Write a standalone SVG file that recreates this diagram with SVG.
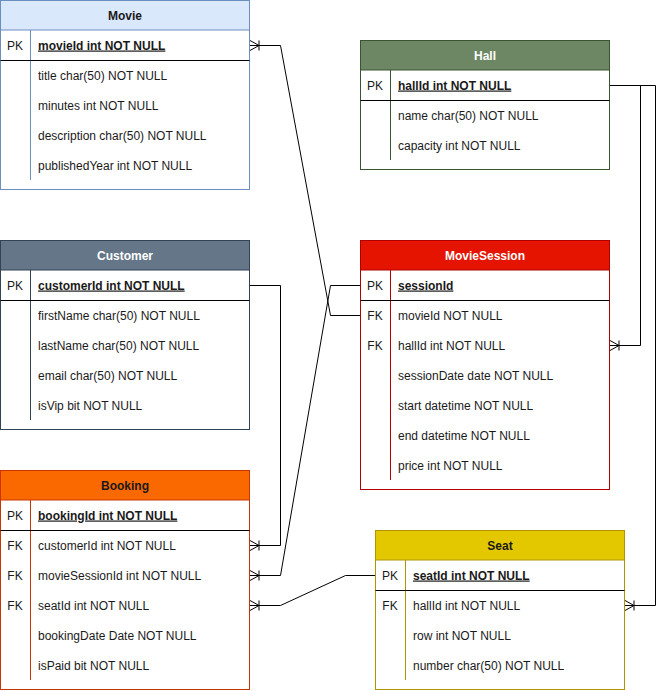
<svg xmlns="http://www.w3.org/2000/svg" width="665" height="691" viewBox="0 0 665 691">
  <defs>
    <style>
      text { font-family: "Liberation Sans", Arial, sans-serif; font-size: 12px; fill: #1a1a1a; }
      .title { font-weight: bold; text-anchor: middle; }
      .light { fill: #ffffff; }
      .key { text-anchor: middle; }
      .pk { font-weight: bold; text-decoration: underline; }
      .sep { stroke: #000000; stroke-width: 1; }
      .conn { fill: none; stroke: #000000; stroke-width: 1; }
    </style>
    <!-- one-or-many crow's foot: toes on the entity edge, bar 9px out along the line -->
    <marker id="many" markerUnits="userSpaceOnUse" markerWidth="13" markerHeight="12" refX="12" refY="6" orient="auto-start-reverse" viewBox="0 0 13 12">
      <path d="M12,1 L3,6 L12,11 M3,1 L3,11" fill="none" stroke="#000000" stroke-width="1"/>
    </marker>
  </defs>

  <!-- Movie -->
  <g id="movie">
    <rect x="0.5" y="0.5" width="249" height="189" fill="#ffffff" stroke="#6c8ebf"/>
    <rect x="0.5" y="0.5" width="249" height="29.5" fill="#dae8fc" stroke="#6c8ebf"/>
    <text class="title" x="125" y="19.5">Movie</text>
    <line x1="30.5" y1="30" x2="30.5" y2="180" stroke="#6c8ebf"/>
    <line class="sep" x1="0.5" y1="60.5" x2="249.5" y2="60.5"/>
    <text class="key" x="15" y="49.5">PK</text>
    <text class="pk" x="38" y="49.5">movieId int NOT NULL</text>
    <text x="38" y="79.5">title char(50) NOT NULL</text>
    <text x="38" y="109.5">minutes int NOT NULL</text>
    <text x="38" y="139.5">description char(50) NOT NULL</text>
    <text x="38" y="169.5">publishedYear int NOT NULL</text>
  </g>

  <!-- Customer -->
  <g id="customer">
    <rect x="0.5" y="240.5" width="249" height="189" fill="#ffffff" stroke="#314354"/>
    <rect x="0.5" y="240.5" width="249" height="29.5" fill="#647687" stroke="#314354"/>
    <text class="title light" x="125" y="259.5">Customer</text>
    <line x1="30.5" y1="270" x2="30.5" y2="420" stroke="#314354"/>
    <line class="sep" x1="0.5" y1="300.5" x2="249.5" y2="300.5"/>
    <text class="key" x="15" y="289.5">PK</text>
    <text class="pk" x="38" y="289.5">customerId int NOT NULL</text>
    <text x="38" y="319.5">firstName char(50) NOT NULL</text>
    <text x="38" y="349.5">lastName char(50) NOT NULL</text>
    <text x="38" y="379.5">email char(50) NOT NULL</text>
    <text x="38" y="409.5">isVip bit NOT NULL</text>
  </g>

  <!-- Booking -->
  <g id="booking">
    <rect x="0.5" y="470.5" width="249" height="219" fill="#ffffff" stroke="#C73500"/>
    <rect x="0.5" y="470.5" width="249" height="29.5" fill="#fa6800" stroke="#C73500"/>
    <text class="title" x="125" y="489.5">Booking</text>
    <line x1="30.5" y1="500" x2="30.5" y2="680" stroke="#C73500"/>
    <line class="sep" x1="0.5" y1="530.5" x2="249.5" y2="530.5"/>
    <text class="key" x="15" y="519.5">PK</text>
    <text class="pk" x="38" y="519.5">bookingId int NOT NULL</text>
    <text class="key" x="15" y="549.5">FK</text>
    <text x="38" y="549.5">customerId int NOT NULL</text>
    <text class="key" x="15" y="579.5">FK</text>
    <text x="38" y="579.5">movieSessionId int NOT NULL</text>
    <text class="key" x="15" y="609.5">FK</text>
    <text x="38" y="609.5">seatId int NOT NULL</text>
    <text x="38" y="639.5">bookingDate Date NOT NULL</text>
    <text x="38" y="669.5">isPaid bit NOT NULL</text>
  </g>

  <!-- Hall -->
  <g id="hall">
    <rect x="360.5" y="40.5" width="249" height="129" fill="#ffffff" stroke="#3A5431"/>
    <rect x="360.5" y="40.5" width="249" height="29.5" fill="#6d8764" stroke="#3A5431"/>
    <text class="title light" x="485" y="59.5">Hall</text>
    <line x1="390.5" y1="70" x2="390.5" y2="160" stroke="#3A5431"/>
    <line class="sep" x1="360.5" y1="100.5" x2="609.5" y2="100.5"/>
    <text class="key" x="375" y="89.5">PK</text>
    <text class="pk" x="398" y="89.5">hallId int NOT NULL</text>
    <text x="398" y="119.5">name char(50) NOT NULL</text>
    <text x="398" y="149.5">capacity int NOT NULL</text>
  </g>

  <!-- MovieSession -->
  <g id="movieSession">
    <rect x="360.5" y="240.5" width="249" height="249" fill="#ffffff" stroke="#B20000"/>
    <rect x="360.5" y="240.5" width="249" height="29.5" fill="#e51400" stroke="#B20000"/>
    <text class="title light" x="485" y="259.5">MovieSession</text>
    <line x1="390.5" y1="270" x2="390.5" y2="480" stroke="#B20000"/>
    <line class="sep" x1="360.5" y1="300.5" x2="609.5" y2="300.5"/>
    <text class="key" x="375" y="289.5">PK</text>
    <text class="pk" x="398" y="289.5">sessionId</text>
    <text class="key" x="375" y="319.5">FK</text>
    <text x="398" y="319.5">movieId NOT NULL</text>
    <text class="key" x="375" y="349.5">FK</text>
    <text x="398" y="349.5">hallId int NOT NULL</text>
    <text x="398" y="379.5">sessionDate date NOT NULL</text>
    <text x="398" y="409.5">start datetime NOT NULL</text>
    <text x="398" y="439.5">end datetime NOT NULL</text>
    <text x="398" y="469.5">price int NOT NULL</text>
  </g>

  <!-- Seat -->
  <g id="seat">
    <rect x="375.5" y="530.5" width="249" height="159" fill="#ffffff" stroke="#B09500"/>
    <rect x="375.5" y="530.5" width="249" height="29.5" fill="#e3c800" stroke="#B09500"/>
    <text class="title" x="500" y="549.5">Seat</text>
    <line x1="405.5" y1="560" x2="405.5" y2="680" stroke="#B09500"/>
    <line class="sep" x1="375.5" y1="590.5" x2="624.5" y2="590.5"/>
    <text class="key" x="390" y="579.5">PK</text>
    <text class="pk" x="413" y="579.5">seatId int NOT NULL</text>
    <text class="key" x="390" y="609.5">FK</text>
    <text x="413" y="609.5">hallId int NOT NULL</text>
    <text x="413" y="639.5">row int NOT NULL</text>
    <text x="413" y="669.5">number char(50) NOT NULL</text>
  </g>

  <!-- relationships -->
  <g id="connectors">
    <path class="conn" marker-start="url(#many)" d="M250,45.5 L280.5,45.5 L330.5,315.5 L360,315.5"/>
    <path class="conn" marker-end="url(#many)" d="M360,285.5 L330.5,285.5 L280.5,575.5 L250,575.5"/>
    <path class="conn" marker-end="url(#many)" d="M250,285.5 L280.5,285.5 L280.5,545.5 L250,545.5"/>
    <path class="conn" marker-end="url(#many)" d="M375,575.5 L345.5,575.5 L280.5,605.5 L250,605.5"/>
    <path class="conn" marker-end="url(#many)" d="M610,85.5 L640.5,85.5 L640.5,345.5 L610,345.5"/>
    <path class="conn" marker-end="url(#many)" d="M610,85.5 L655.5,85.5 L655.5,605.5 L625,605.5"/>
  </g>
</svg>
